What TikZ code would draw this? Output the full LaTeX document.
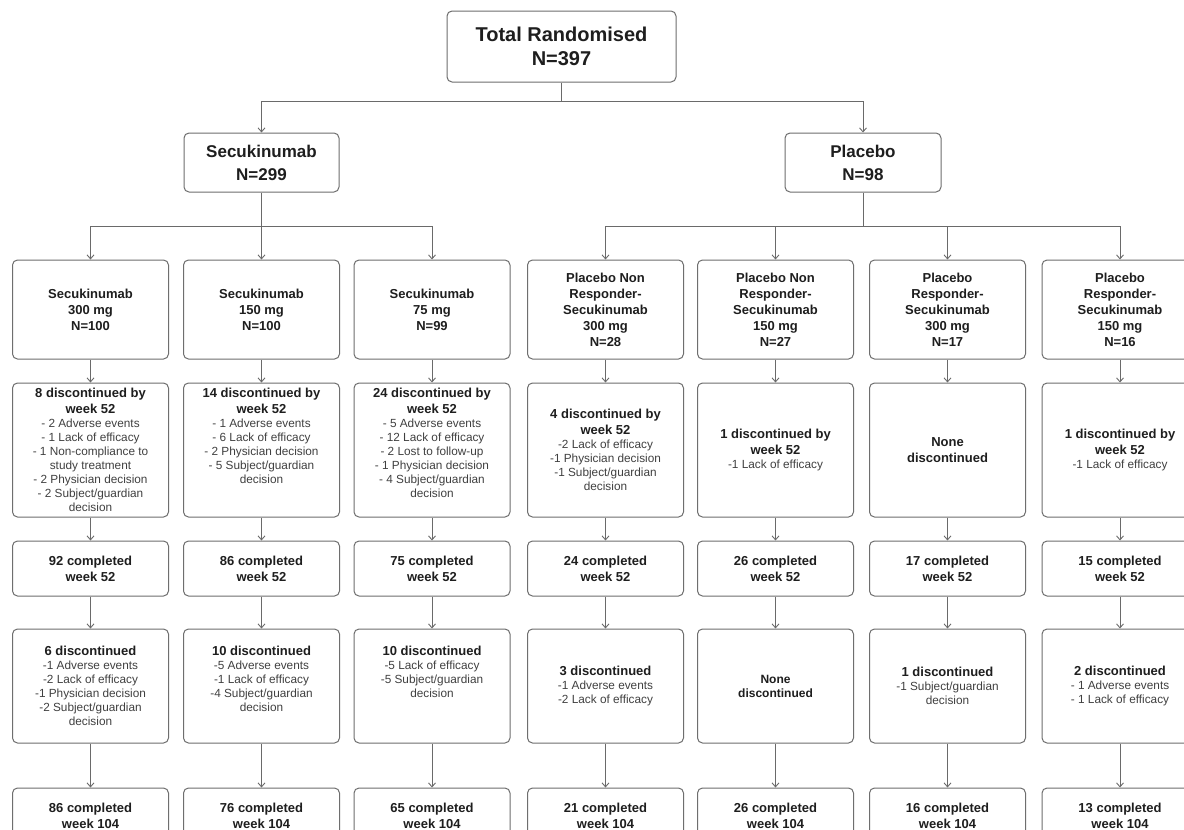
\documentclass[tikz,border=0pt]{standalone}
\usepackage{fontspec}
\setmainfont{Liberation Sans}
\usetikzlibrary{arrows.meta}
\definecolor{linec}{HTML}{6A6A6A}
\definecolor{boxc}{HTML}{6E6E6E}
\definecolor{txtc}{HTML}{1E1E1E}
\definecolor{subc}{HTML}{404040}
\newcommand\hdf{\fontsize{13}{14}\selectfont\bfseries\color{txtc}}
\newcommand\sbf{\fontsize{11.8}{14}\selectfont\mdseries\color{subc}}
\begin{document}
\begin{tikzpicture}[x=1pt,y=-1pt,
  box/.style={draw=boxc, line width=1pt, rounded corners=5pt, fill=white,
    minimum width=156pt, inner sep=0pt, align=center, text=txtc, font=\hdf},
  txt/.style={inner sep=0pt, align=center, text=txtc, font=\hdf},
  rowA/.style={box, minimum height=99pt},
  rowB/.style={box, minimum height=134pt},
  rowC/.style={box, minimum height=55pt},
  rowD/.style={box, minimum height=114pt},
  rowE/.style={box, minimum height=55pt},
  conn/.style={draw=linec, line width=0.9pt},
  arr/.style={conn, -{Straight Barb[length=4pt,width=7pt]}}]
\useasboundingbox (0,0) rectangle (1184,830);
\fill[white] (0,0) rectangle (1184,830);
\clip (0,0) rectangle (1184,830);

% top levels
\node[box, minimum width=229pt, minimum height=71pt, font=\fontsize{20}{24}\selectfont\bfseries] (top) at (561.5,46.5) {Total Randomised\\N=397};
\node[box, minimum width=155pt, minimum height=59pt, font=\fontsize{17}{23}\selectfont\bfseries] (sec) at (261.5,162.5) {Secukinumab\\N=299};
\node[box, minimum width=156pt, minimum height=59pt, font=\fontsize{17}{23}\selectfont\bfseries] (pla) at (863,162.5) {Placebo\\N=98};
\coordinate (j1) at (561.5,101);
\coordinate (j2) at (261.5,226);
\coordinate (j3) at (863,226);

% row A
\node[rowA] (a1) at (90.5,309.5) {Secukinumab\\[2pt]300 mg\\[2pt]N=100};
\node[rowA] (a2) at (261.5,309.5) {Secukinumab\\[2pt]150 mg\\[2pt]N=100};
\node[rowA] (a3) at (432,309.5) {Secukinumab\\[2pt]75 mg\\[2pt]N=99};
\node[rowA] (a4) at (605.5,309.5) {Placebo Non\\[2pt]Responder-\\[2pt]Secukinumab\\[2pt]300 mg\\[2pt]N=28};
\node[rowA] (a5) at (775.5,309.5) {Placebo Non\\[2pt]Responder-\\[2pt]Secukinumab\\[2pt]150 mg\\[2pt]N=27};
\node[rowA] (a6) at (947.5,309.5) {Placebo\\[2pt]Responder-\\[2pt]Secukinumab\\[2pt]300 mg\\[2pt]N=17};
\node[rowA] (a7) at (1120,309.5) {Placebo\\[2pt]Responder-\\[2pt]Secukinumab\\[2pt]150 mg\\[2pt]N=16};

% row B
\node[rowB] (b1) at (90.5,450) {};
\node[txt, anchor=north] (tb1) at ([yshift=-5pt]b1.north) {8 discontinued by\\[2pt]week 52\\ \sbf - 2 Adverse events\\ \sbf - 1 Lack of efficacy\\ \sbf - 1 Non-compliance to\\ \sbf study treatment\\ \sbf - 2 Physician decision\\ \sbf - 2 Subject/guardian\\ \sbf decision};
\node[rowB] (b2) at (261.5,450) {};
\node[txt, anchor=north] (tb2) at ([yshift=-5pt]b2.north) {14 discontinued by\\[2pt]week 52\\ \sbf - 1 Adverse events\\ \sbf - 6 Lack of efficacy\\ \sbf - 2 Physician decision\\ \sbf - 5 Subject/guardian\\ \sbf decision};
\node[rowB] (b3) at (432,450) {};
\node[txt, anchor=north] (tb3) at ([yshift=-5pt]b3.north) {24 discontinued by\\[2pt]week 52\\ \sbf - 5 Adverse events\\ \sbf - 12 Lack of efficacy\\ \sbf - 2 Lost to follow-up\\ \sbf - 1 Physician decision\\ \sbf - 4 Subject/guardian\\ \sbf decision};
\node[rowB] (b4) at (605.5,450) {4 discontinued by\\[2pt]week 52\\ \sbf -2 Lack of efficacy\\ \sbf -1 Physician decision\\ \sbf -1 Subject/guardian\\ \sbf decision};
\node[rowB] (b5) at (775.5,450) {1 discontinued by\\[2pt]week 52\\ \sbf -1 Lack of efficacy};
\node[rowB] (b6) at (947.5,450) {None\\[2pt]discontinued};
\node[rowB] (b7) at (1120,450) {1 discontinued by\\[2pt]week 52\\ \sbf -1 Lack of efficacy};

% row C
\node[rowC] (c1) at (90.5,568.5) {92 completed\\[2pt]week 52};
\node[rowC] (c2) at (261.5,568.5) {86 completed\\[2pt]week 52};
\node[rowC] (c3) at (432,568.5) {75 completed\\[2pt]week 52};
\node[rowC] (c4) at (605.5,568.5) {24 completed\\[2pt]week 52};
\node[rowC] (c5) at (775.5,568.5) {26 completed\\[2pt]week 52};
\node[rowC] (c6) at (947.5,568.5) {17 completed\\[2pt]week 52};
\node[rowC] (c7) at (1120,568.5) {15 completed\\[2pt]week 52};

% row D
\node[rowD] (d1) at (90.5,686) {};
\node[txt, anchor=north] (td1) at ([yshift=-17pt]d1.north) {6 discontinued\\ \sbf -1 Adverse events\\ \sbf -2 Lack of efficacy\\ \sbf -1 Physician decision\\ \sbf -2 Subject/guardian\\ \sbf decision};
\node[rowD] (d2) at (261.5,686) {};
\node[txt, anchor=north] (td2) at ([yshift=-17pt]d2.north) {10 discontinued\\ \sbf -5 Adverse events\\ \sbf -1 Lack of efficacy\\ \sbf -4 Subject/guardian\\ \sbf decision};
\node[rowD] (d3) at (432,686) {};
\node[txt, anchor=north] (td3) at ([yshift=-17pt]d3.north) {10 discontinued\\ \sbf -5 Lack of efficacy\\ \sbf -5 Subject/guardian\\ \sbf decision};
\node[rowD] (d4) at (605.5,686) {3 discontinued\\ \sbf -1 Adverse events\\ \sbf -2 Lack of efficacy};
\node[rowD, font=\fontsize{12}{14}\selectfont\bfseries] (d5) at (775.5,686) {None\\discontinued};
\node[rowD] (d6) at (947.5,686) {1 discontinued\\ \sbf -1 Subject/guardian\\ \sbf decision};
\node[rowD] (d7) at (1120,686) {2 discontinued\\ \sbf - 1 Adverse events\\ \sbf - 1 Lack of efficacy};

% row E
\node[rowE] (e1) at (90.5,815.5) {86 completed\\[2pt]week 104};
\node[rowE] (e2) at (261.5,815.5) {76 completed\\[2pt]week 104};
\node[rowE] (e3) at (432,815.5) {65 completed\\[2pt]week 104};
\node[rowE] (e4) at (605.5,815.5) {21 completed\\[2pt]week 104};
\node[rowE] (e5) at (775.5,815.5) {26 completed\\[2pt]week 104};
\node[rowE] (e6) at (947.5,815.5) {16 completed\\[2pt]week 104};
\node[rowE] (e7) at (1120,815.5) {13 completed\\[2pt]week 104};

% connectors
\draw[conn] (top) -- (j1);
\draw[arr] (j1) -| (sec);
\draw[arr] (j1) -| (pla);
\draw[conn] (sec) -- (j2);
\draw[arr] (j2) -| (a1);
\draw[arr] (j2) -- (a2);
\draw[arr] (j2) -| (a3);
\draw[conn] (pla) -- (j3);
\foreach \c in {a4,a5,a6,a7} \draw[arr] (j3) -| (\c);
\foreach \i in {1,...,7} {
  \draw[arr] (a\i) -- (b\i);
  \draw[arr] (b\i) -- (c\i);
  \draw[arr] (c\i) -- (d\i);
  \draw[arr] (d\i) -- (e\i);
}
\end{tikzpicture}
\end{document}
